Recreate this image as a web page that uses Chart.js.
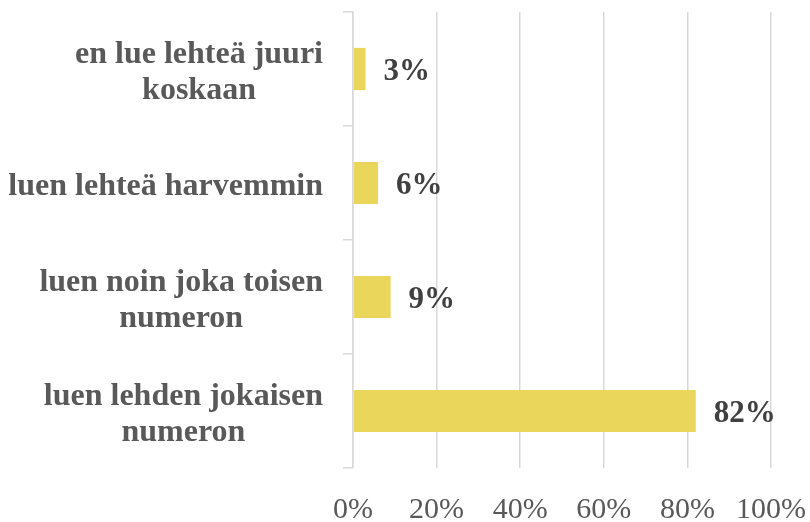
<!DOCTYPE html>
<html>
<head>
<meta charset="utf-8">
<script src="https://cdn.jsdelivr.net/npm/chart.js@4/dist/chart.umd.min.js"></script>
<style>
  html, body { margin: 0; padding: 0; background: #fff; }
  #wrap { width: 810px; height: 522px; }
</style>
</head>
<body>
<div id="wrap"><canvas id="c" width="810" height="522"></canvas></div>
<script>
// categories top to bottom, multi-line labels as arrays
const categories = [
  ['en lue lehteä juuri', 'koskaan'],
  ['luen lehteä harvemmin'],
  ['luen noin joka toisen', 'numeron'],
  ['luen lehden jokaisen', 'numeron']
];
const values = [3, 6, 9, 82];
const tickLabels = ['0%', '20%', '40%', '60%', '80%', '100%'];

const serif = '"Liberation Serif", "Times New Roman", serif';

// value labels at bar ends
const barLabels = {
  id: 'barLabels',
  afterDatasetsDraw(chart) {
    const ctx = chart.ctx;
    const meta = chart.getDatasetMeta(0);
    ctx.save();
    ctx.font = 'bold 31px ' + serif;
    ctx.fillStyle = '#404040';
    ctx.textAlign = 'left';
    ctx.textBaseline = 'middle';
    meta.data.forEach((bar, i) => {
      ctx.fillText(values[i] + '%', bar.x + 18, bar.y + 3);
    });
    ctx.restore();
  }
};

// category labels: block right-aligned to the axis, lines centred inside the block
const catLabels = {
  id: 'catLabels',
  afterDraw(chart) {
    const ctx = chart.ctx;
    const y = chart.scales.y;
    const right = y.right - 30;
    const lh = 36;
    ctx.save();
    ctx.font = 'bold 32px ' + serif;
    ctx.fillStyle = '#595959';
    ctx.textAlign = 'center';
    ctx.textBaseline = 'middle';
    categories.forEach((lines, i) => {
      const w = Math.max(...lines.map(s => ctx.measureText(s).width));
      const cx = right - w / 2;
      const cy = y.getPixelForValue(i) + 4 - (lines.length - 1) * lh / 2;
      lines.forEach((s, j) => ctx.fillText(s, cx, cy + j * lh));
    });
    ctx.restore();
  }
};

new Chart(document.getElementById('c'), {
  type: 'bar',
  data: {
    labels: categories.map(l => l.join(' ')),
    datasets: [{
      data: values,
      backgroundColor: '#EAD65B',
      borderWidth: 0,
      barPercentage: 0.37,
      categoryPercentage: 1
    }]
  },
  options: {
    indexAxis: 'y',
    responsive: false,
    animation: false,
    layout: { padding: { top: 12, right: 0, left: 0, bottom: 0 } },
    plugins: { legend: { display: false }, tooltip: { enabled: false } },
    scales: {
      x: {
        min: 0,
        max: 100,
        afterFit(scale) { scale.height = 54; scale.paddingRight = 39; },
        ticks: {
          stepSize: 20,
          callback: (v, i) => tickLabels[i],
          color: '#595959',
          font: { family: serif, size: 30 },
          padding: 24,
          maxRotation: 0
        },
        grid: { color: '#D9D9D9', lineWidth: 1.5, drawTicks: false },
        border: { display: false }
      },
      y: {
        afterFit(scale) { scale.width = 353; scale.paddingTop = 0; scale.paddingBottom = 0; },
        ticks: { display: false },
        grid: { offset: true, drawOnChartArea: false, color: '#D9D9D9', lineWidth: 1.5, tickLength: 10 },
        border: { color: '#D9D9D9', width: 1.5 }
      }
    }
  },
  plugins: [barLabels, catLabels]
});
</script>
</body>
</html>
